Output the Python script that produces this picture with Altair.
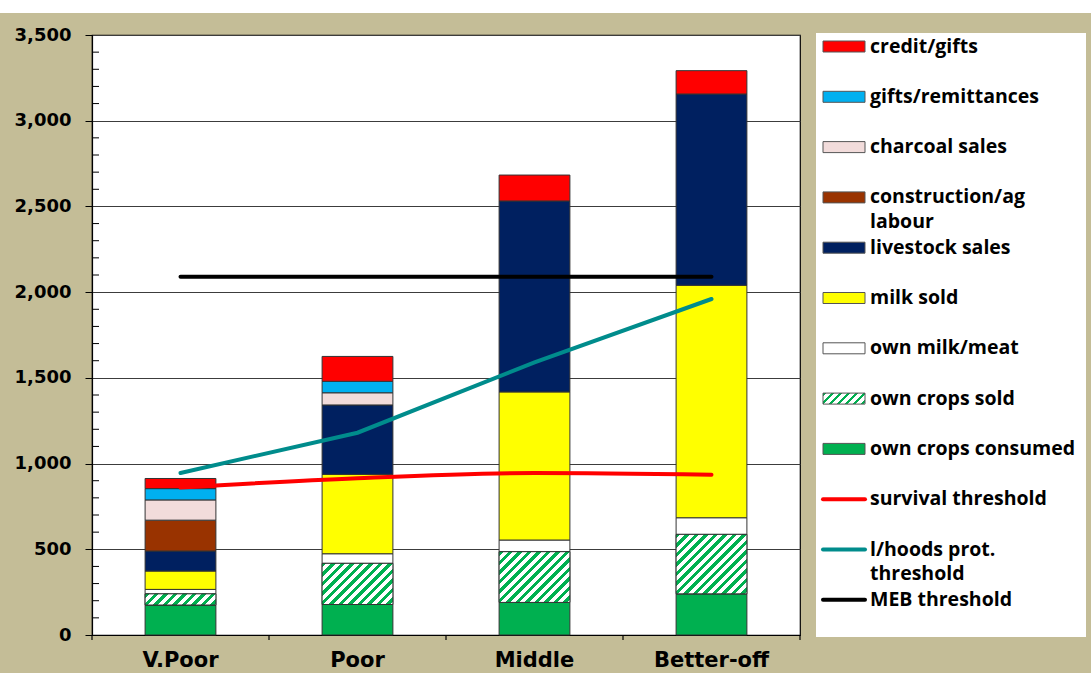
import altair as alt
import pandas as pd

# ---------------- data ----------------
categories = ["V.Poor", "Poor", "Middle", "Better-off"]

own_crops_consumed = [175, 178, 190, 240]
own_crops_sold = [65, 240, 296, 347]
own_milk_meat = [26, 56, 68, 97]
milk_sold = [107, 463, 864, 1356]
livestock_sales = [117, 405, 1114, 1116]
construction_ag_labour = [180, 0, 0, 0]
charcoal_sales = [118, 71, 0, 0]
gifts_remittances = [66, 67, 0, 0]
credit_gifts = [59, 145, 151, 136]

survival_threshold = [860, 915, 945, 935]
lhoods_prot_threshold = [945, 1180, 1590, 1960]
meb_threshold = [2090, 2090, 2090, 2090]

y_tick_values = [0, 500, 1000, 1500, 2000, 2500, 3000, 3500]

component_names = ["own crops consumed", "own crops sold", "own milk/meat", "milk sold",
                   "livestock sales", "construction/ag labour", "charcoal sales",
                   "gifts/remittances", "credit/gifts"]
component_values = [own_crops_consumed, own_crops_sold, own_milk_meat, milk_sold,
                    livestock_sales, construction_ag_labour, charcoal_sales,
                    gifts_remittances, credit_gifts]
component_colors = ["#00B050", "#FFFFFF", "#FFFFFF", "#FFFF00", "#002060",
                    "#993300", "#F2DCDB", "#00B0F0", "#FF0000"]

line_names = ["survival threshold", "l/hoods prot. threshold", "MEB threshold"]
line_values = [survival_threshold, lhoods_prot_threshold, meb_threshold]
line_colors = ["#FF0000", "#008C8C", "#000000"]

legend_labels = ["credit/gifts", "gifts/remittances", "charcoal sales", "construction/ag\nlabour",
                 "livestock sales", "milk sold", "own milk/meat", "own crops sold",
                 "own crops consumed", "survival threshold", "l/hoods prot.\nthreshold",
                 "MEB threshold"]
legend_keys = ["credit/gifts", "gifts/remittances", "charcoal sales", "construction/ag labour",
               "livestock sales", "milk sold", "own milk/meat", "own crops sold",
               "own crops consumed", "survival threshold", "l/hoods prot. threshold",
               "MEB threshold"]

# ---------------- layout constants ----------------
PLOT_W, PLOT_H = 708, 600
Y_MAX = 3500
PAD_IN, PAD_OUT = 0.6, 0.3
STEP = PLOT_W / (len(categories) - PAD_IN + 2 * PAD_OUT)
BAR_W = STEP * (1 - PAD_IN)
TAN = "#C4BD97"
GREEN = "#00B050"
STROKE = "#333333"

# stacked segments
rows = []
for ci, cat in enumerate(categories):
    cum = 0
    for name, vals in zip(component_names, component_values):
        v = vals[ci]
        if v <= 0:
            continue
        rows.append({"cat": cat, "comp": name, "y0": cum, "y1": cum + v})
        cum += v
bars_df = pd.DataFrame(rows)

lines_df = pd.DataFrame([
    {"cat": cat, "series": n, "value": vals[i]}
    for n, vals in zip(line_names, line_values)
    for i, cat in enumerate(categories)
])


def hatch(w, h, period=9.5, frac=0.45, c1=GREEN, c2="#FFFFFF"):
    L = w + h
    s = L / (w * w + h * h)
    stops = []
    k = 0
    while k * period / L < 1:
        a = k * period / L
        b = min((k * period + frac * period) / L, 1)
        c = min((k + 1) * period / L, 1)
        stops += [(a, c1), (b, c1), (b, c2), (c, c2)]
        k += 1
    return alt.LinearGradient(
        gradient="linear",
        stops=[alt.GradientStop(offset=o, color=col) for o, col in stops],
        x1=0, y1=0, x2=s * w, y2=s * h,
    )


x_scale = alt.Scale(domain=categories, paddingInner=PAD_IN, paddingOuter=PAD_OUT)
y_scale = alt.Scale(domain=[0, Y_MAX], nice=False)
comp_scale = alt.Scale(domain=component_names, range=component_colors)
line_scale = alt.Scale(domain=line_names, range=line_colors)

x_enc = alt.X("cat:N", sort=categories, scale=x_scale, title=None,
              axis=alt.Axis(labelAngle=0, ticks=False, labelPadding=14,
                            labelFontSize=21, domainColor="black",
                            domainWidth=1.2))
x_plain = alt.X("cat:N", sort=categories, scale=x_scale, title=None)

bars = alt.Chart(bars_df).mark_bar(stroke=STROKE, strokeWidth=1).encode(
    x=x_enc,
    y=alt.Y("y0:Q", scale=y_scale, title=None,
            axis=alt.Axis(values=y_tick_values, labelExpr="format(datum.value, ',')",
                          tickSize=7, labelPadding=14,
                          labelFontSize=18, grid=True, gridColor="#3C3C3C", gridWidth=1,
                          domainColor="black", tickColor="black", domainWidth=1.2)),
    y2="y1:Q",
    color=alt.Color("comp:N", scale=comp_scale, legend=None),
)

hatch_layers = []
for ci, cat in enumerate(categories):
    h = own_crops_sold[ci] * PLOT_H / Y_MAX
    hatch_layers.append(
        alt.Chart(bars_df).transform_filter(
            (alt.datum.cat == cat) & (alt.datum.comp == "own crops sold")
        ).mark_bar(fill=hatch(BAR_W, h), stroke=STROKE, strokeWidth=1).encode(
            x=x_plain,
            y=alt.Y("y0:Q", scale=y_scale, title=None),
            y2="y1:Q",
        )
    )

minor_df = pd.DataFrame({"v": [v for v in range(100, Y_MAX, 100) if v % 500]})
minor = alt.Chart(minor_df).mark_rule(color="black", strokeWidth=1).encode(
    x=alt.value(0), x2=alt.value(7), y=alt.Y("v:Q", scale=y_scale, title=None)
)

# category separator ticks below the x axis (at band-step boundaries)
sep_df = pd.DataFrame({"cat": categories})
sep_start = alt.Chart(sep_df).mark_rule(color="black", strokeWidth=1.2,
                                        xOffset=-STEP * PAD_IN / 2).encode(
    x=alt.X("cat:N", sort=categories, scale=x_scale, bandPosition=0, title=None),
    y=alt.value(PLOT_H), y2=alt.value(PLOT_H + 5),
)
sep_end = alt.Chart(sep_df.tail(1)).mark_rule(color="black", strokeWidth=1.2,
                                              xOffset=STEP * PAD_IN / 2).encode(
    x=alt.X("cat:N", sort=categories, scale=x_scale, bandPosition=1, title=None),
    y=alt.value(PLOT_H), y2=alt.value(PLOT_H + 5),
)

survival_line = alt.Chart(lines_df).transform_filter(
    alt.datum.series == "survival threshold"
).mark_line(strokeWidth=4, strokeCap="round", interpolate="monotone").encode(
    x=x_plain,
    y=alt.Y("value:Q", scale=y_scale, title=None),
    stroke=alt.Stroke("series:N", scale=line_scale, legend=None),
)
other_lines = alt.Chart(lines_df).transform_filter(
    alt.datum.series != "survival threshold"
).mark_line(strokeWidth=4, strokeCap="round").encode(
    x=x_plain,
    y=alt.Y("value:Q", scale=y_scale, title=None),
    stroke=alt.Stroke("series:N", scale=line_scale, legend=None),
    detail="series:N",
)

# ---------------- decoration / legend ----------------
one = pd.DataFrame({"a": [0]})
top_strip = alt.Chart(one).mark_rect(color="white").encode(
    x=alt.value(-92), x2=alt.value(999), y=alt.value(-35), y2=alt.value(-22)
)
legend_box = alt.Chart(one).mark_rect(color="white").encode(
    x=alt.value(724), x2=alt.value(994), y=alt.value(-2), y2=alt.value(602)
)

ROW0, ROW_STEP = 11.5, 50.3
sw_rows, ln_rows, tx_rows = [], [], []
hatch_row = None
for i, (key, lab) in enumerate(zip(legend_keys, legend_labels)):
    cy = ROW0 + ROW_STEP * i
    if key in line_names:
        ln_rows.append({"series": key, "py": cy})
    elif key != "own crops sold":
        sw_rows.append({"comp": key, "py0": cy - 5.5, "py1": cy + 5.5})
    else:
        hatch_row = {"comp": key, "py0": cy - 5.5, "py1": cy + 5.5}
    for j, part in enumerate(lab.split("\n")):
        tx_rows.append({"t": part, "py": cy + 24.6 * j})

leg_sw = alt.Chart(pd.DataFrame(sw_rows)).mark_rect(stroke="#555555", strokeWidth=1).encode(
    x=alt.value(731), x2=alt.value(773),
    y=alt.Y("py0:Q", scale=None), y2="py1:Q",
    color=alt.Color("comp:N", scale=comp_scale, legend=None),
)
leg_hatch = alt.Chart(pd.DataFrame([hatch_row])).mark_rect(
    fill=hatch(42, 11, period=8), stroke="#555555", strokeWidth=1).encode(
    x=alt.value(731), x2=alt.value(773),
    y=alt.Y("py0:Q", scale=None), y2="py1:Q",
)
leg_ln = alt.Chart(pd.DataFrame(ln_rows)).mark_rule(strokeWidth=4, strokeCap="round").encode(
    x=alt.value(731), x2=alt.value(773),
    y=alt.Y("py:Q", scale=None),
    stroke=alt.Stroke("series:N", scale=line_scale, legend=None),
)
leg_tx = alt.Chart(pd.DataFrame(tx_rows)).mark_text(
    align="left", baseline="middle", font="Open Sans", fontWeight="bold",
    fontSize=19.5, color="black").encode(
    x=alt.value(778),
    y=alt.Y("py:Q", scale=None),
    text="t:N",
)

chart = alt.layer(
    top_strip, legend_box, bars, *hatch_layers, minor, sep_start, sep_end,
    survival_line, other_lines,
    leg_sw, leg_hatch, leg_ln, leg_tx,
).properties(
    width=PLOT_W, height=PLOT_H,
    background=TAN,
    padding={"left": 92, "top": 35, "right": 291, "bottom": 38},
    autosize=alt.AutoSizeParams(type="none"),
).configure_view(
    fill="white", stroke="black", strokeWidth=1.2
).configure_axis(
    labelFont="DejaVu Sans", labelFontWeight="bold", labelColor="black",
)

chart.save("out.html", embed_options={"renderer": "svg", "actions": False})
